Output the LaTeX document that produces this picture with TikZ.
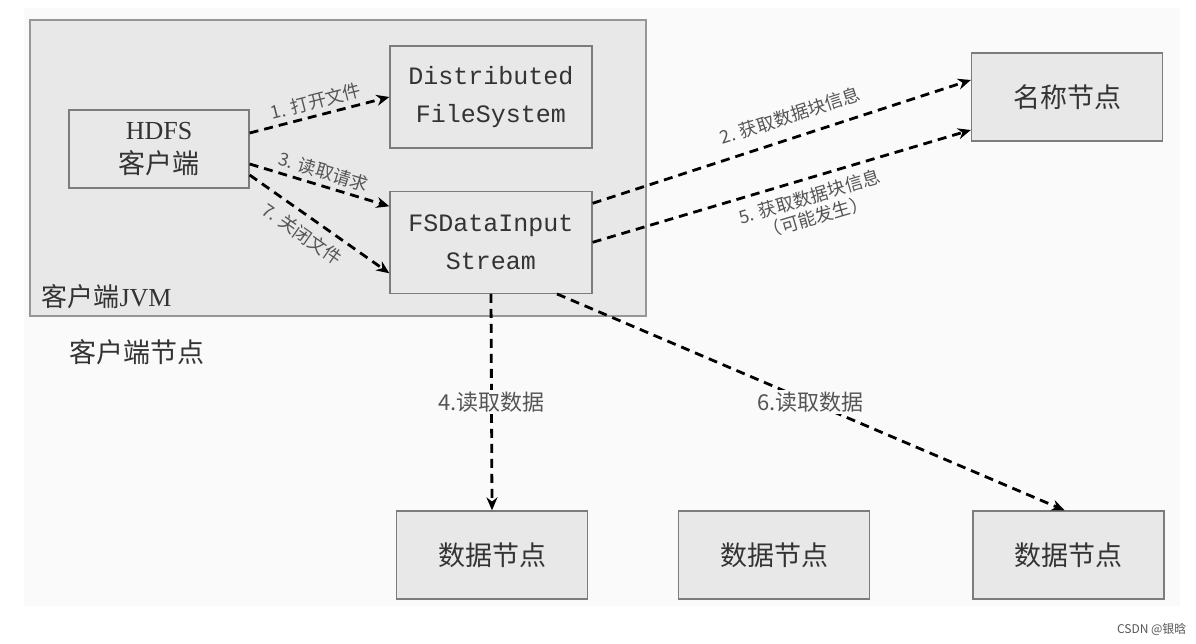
\documentclass[tikz,border=0pt]{standalone}
\usepackage{fontspec}
\setmainfont{Liberation Serif}
\setmonofont{Liberation Mono}
\newfontfamily\cjk{Noto Sans CJK SC}
\usetikzlibrary{arrows.meta,positioning}
\definecolor{edge}{HTML}{7C7C7C}
\definecolor{shade}{HTML}{E8E8E8}
\definecolor{ink}{HTML}{333333}
\definecolor{soft}{HTML}{555555}
\definecolor{paper}{HTML}{FAFAFA}

\begin{document}
\begin{tikzpicture}[x=1pt,y=-1pt,
  box/.style={draw=edge,line width=1.3pt,fill=shade,align=center,text=ink,inner sep=0pt},
  cnbox/.style={box,font=\cjk\fontsize{27}{32}\selectfont,minimum width=191pt,minimum height=88pt},
  ttbox/.style={box,font=\ttfamily\fontsize{25}{38}\selectfont,minimum width=202pt,minimum height=102pt},
  arr/.style={-{Stealth[length=13pt,width=11pt]},line width=2.8pt,dash pattern=on 9pt off 6pt},
  lab/.style={font=\cjk\fontsize{18}{21}\selectfont,text=soft},
  biglab/.style={font=\cjk\fontsize{22}{26}\selectfont,text=soft,fill=paper,inner sep=2pt}]
\useasboundingbox (0,0) rectangle (1196,644);
\fill[white] (0,0) rectangle (1196,644);
\fill[paper] (24,8) rectangle (1180,606);
% client side
\node[box,draw=edge!80,minimum width=616pt,minimum height=296pt] (jvm) at (338,168) {};
\node[box,minimum width=180pt,minimum height=78pt,font=\fontsize{26}{34}\selectfont] (hdfs) at (159,149) {HDFS\\{\cjk\fontsize{27}{32}\selectfont 客户端}};
\node[ttbox] (dfs) at (491,97) {Distributed\\FileSystem};
\node[ttbox,below=42pt of dfs] (fsd) {FSDataInput\\Stream};
\node[anchor=west,font=\fontsize{26}{30}\selectfont,text=ink] (jvmlab) at (38,297) {{\cjk 客户端}JVM};
\node[anchor=west,font=\cjk\fontsize{27}{32}\selectfont,text=ink] (cnode) at (66,352) {客户端节点};
% cluster side
\node[cnbox] (name) at (1067,97) {名称节点};
\node[cnbox] (d1) at (492,555) {数据节点};
\node[cnbox,right=90pt of d1] (d2) {数据节点};
\node[cnbox,right=102pt of d2] (d3) {数据节点};
% steps
\draw[arr] ([yshift=16pt]hdfs.east) -- node[lab,sloped,above=1pt]{1. 打开文件} (dfs.west);
\draw[arr] ([yshift=-15pt]hdfs.east) -- node[lab,sloped,above=1pt]{3. 读取请求} ([yshift=36pt]fsd.west);
\draw[arr] ([yshift=-26pt]hdfs.east) -- node[lab,sloped,below=5pt,pos=0.45]{7. 关闭文件} ([yshift=-31pt]fsd.west);
\draw[arr] ([yshift=39pt]fsd.east) -- node[lab,sloped,above=9pt,pos=0.54]{2. 获取数据块信息} ([yshift=17pt]name.west);
\draw[arr] (fsd.east) -- node[lab,sloped,below=5pt,pos=0.56,align=center]{5. 获取数据块信息\\（可能发生）} ([yshift=-33pt]name.west);
\draw[arr] (fsd.south) -- node[biglab]{4.读取数据} (d1.north);
\draw[arr] ([xshift=66pt]fsd.south) -- node[biglab]{6.读取数据} ([xshift=-4pt]d3.north);
\node[anchor=east,font=\cjk\fontsize{12}{14}\selectfont,text=soft] (mark) at (1190,629) {CSDN @银晗};
\end{tikzpicture}
\end{document}
